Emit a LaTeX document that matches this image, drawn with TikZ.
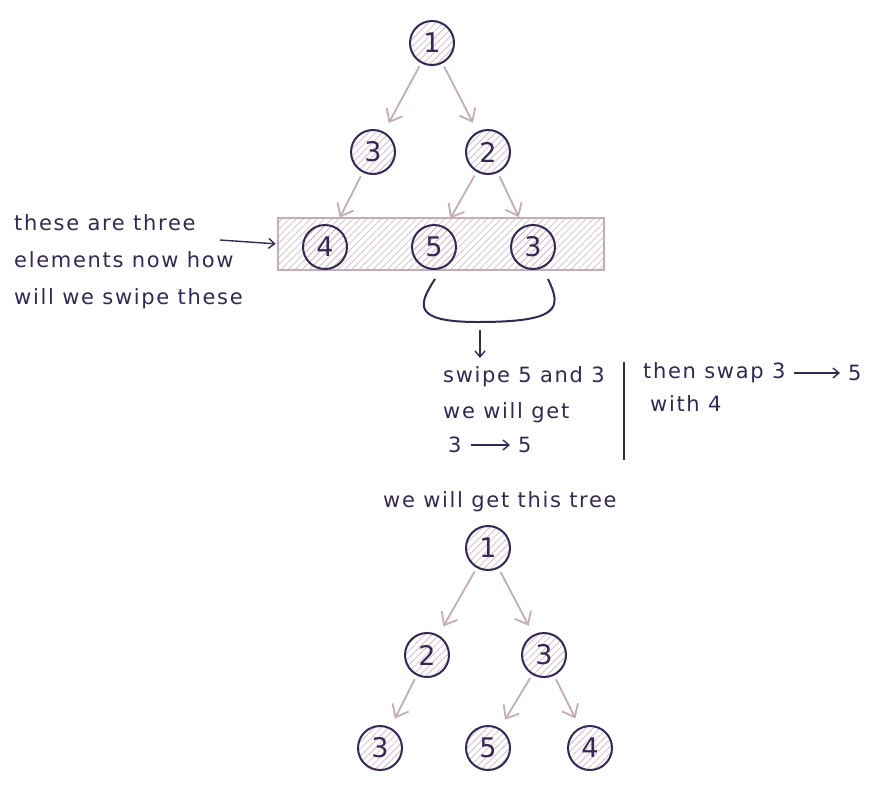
\documentclass[tikz,border=0pt]{standalone}
\usepackage{fontspec}
\setmainfont{DejaVu Sans}
\newfontfamily\hand{DejaVu Sans}[LetterSpace=8]
\usetikzlibrary{arrows.meta,patterns.meta}
\definecolor{ink}{RGB}{52,40,84}
\definecolor{pinkline}{RGB}{196,172,185}
\definecolor{hatch}{RGB}{212,190,201}
\tikzset{
  ball/.style={circle,draw=ink,line width=2pt,minimum size=44pt,inner sep=0pt,text=ink,
    font=\fontsize{27}{27}\selectfont,pattern={Lines[angle=45,distance=5pt,line width=0.8pt]},pattern color=hatch},
  edge/.style={draw=pinkline,line width=1.8pt,-{Straight Barb[length=11pt,width=18pt]},shorten >=10pt,shorten <=4pt},
  note/.style={anchor=west,text=ink,font=\hand\fontsize{21}{37}\selectfont,inner sep=0pt,align=left},
  inkarrow/.style={draw=ink,line width=1.4pt,-{Straight Barb[length=6pt,width=10pt]}},
}
\begin{document}
\begin{tikzpicture}[x=1pt,y=-1pt]
  \fill[white] (0,0) rectangle (880,798);
  \useasboundingbox (0,0) rectangle (880,798);

  % first tree
  \node (Row) at (441,244) [draw=pinkline,line width=1.5pt,minimum width=326pt,minimum height=52pt,
    pattern={Lines[angle=45,distance=5pt,line width=0.7pt]},pattern color=hatch] {};
  \node[ball] (A) at (432,43) {1};
  \node[ball] (B) at (373,152) {3};
  \node[ball] (C) at (488,152) {2};
  \node[ball] (D) at (325,247) {4};
  \node[ball] (E) at (434,247) {5};
  \node[ball] (F) at (533,247) {3};
  \draw[edge] (A) -- (B);
  \draw[edge] (A) -- (C);
  \draw[edge] (B) -- (D);
  \draw[edge] (C) -- (E);
  \draw[edge] (C) -- (F);

  % note on the left
  \node[note] (Left) at (14,262) {these are three\\elements now how\\will we swipe these};
  \coordinate (Lt) at (220,240);
  \draw[inkarrow,shorten >=2pt] (Lt) -- (Row.west);

  % bracket under 5 and 3
  \coordinate (BrL) at (435,279);
  \coordinate (BrR) at (548,279);
  \draw[ink,line width=2pt] (BrL) .. controls (418,305) and (412,322) .. (478,322)
    .. controls (560,322) and (562,308) .. (BrR);
  \coordinate (Dn) at (480,330);
  \draw[inkarrow] (Dn) -- ++(0,28);

  % swap notes
  \node[note] (Sw) at (443,377) {swipe 5 and 3};
  \node[note] (Get) at (443,413) {we will get};
  \node[note] (G3) at (448,445) {3};
  \node[note] (G5) at (518,445) {5};
  \draw[inkarrow,shorten <=9pt,shorten >=8pt] (G3) -- (G5);
  \draw[ink,line width=2pt] (624,362) -- (624,460);
  \node[note] (Then) at (643,373) {then swap 3};
  \node[note] (T5) at (848,373) {5};
  \draw[inkarrow,shorten <=8pt,shorten >=8pt] (Then) -- (T5);
  \node[note] (With) at (650,404) {with 4};

  % second tree
  \node[note] (Res) at (383,502) {we will get this tree};
  \node[ball] (P) at (488,548) {1};
  \node[ball] (Q) at (427,655) {2};
  \node[ball] (R) at (544,655) {3};
  \node[ball] (S) at (380,748) {3};
  \node[ball] (T) at (488,748) {5};
  \node[ball] (U) at (590,748) {4};
  \draw[edge] (P) -- (Q);
  \draw[edge] (P) -- (R);
  \draw[edge] (Q) -- (S);
  \draw[edge] (R) -- (T);
  \draw[edge] (R) -- (U);
\end{tikzpicture}
\end{document}
